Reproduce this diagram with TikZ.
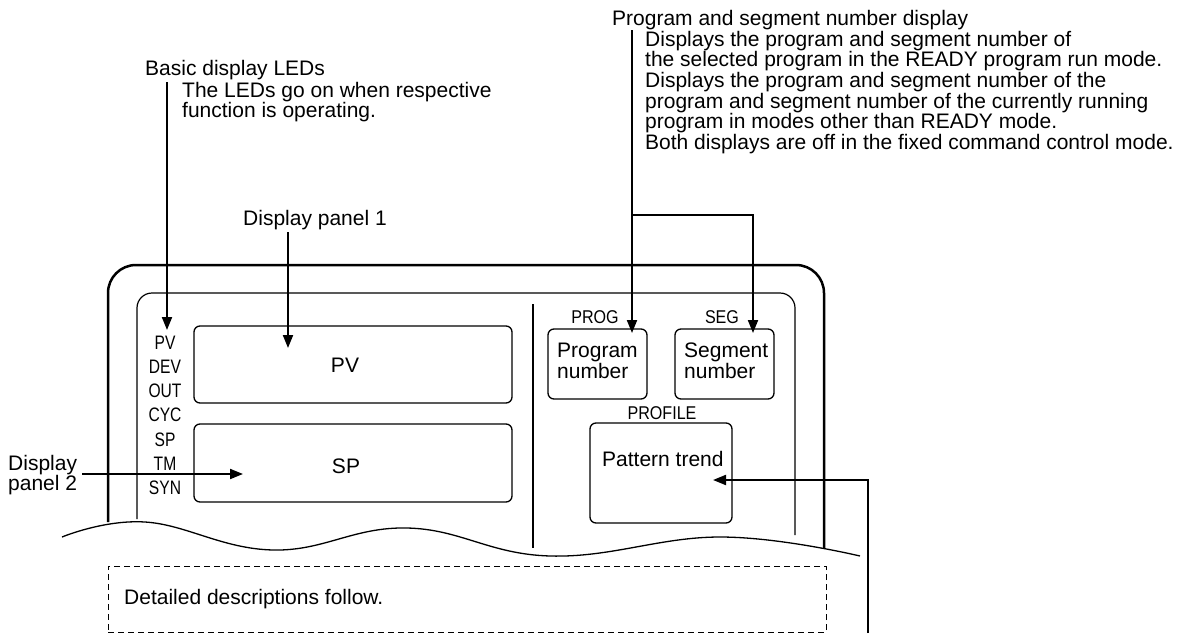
\documentclass[tikz,border=0pt]{standalone}
\usepackage{fontspec}
\setmainfont{Liberation Sans}
\newfontfamily\narrowfont[FakeStretch=0.8]{Liberation Sans}
\newfontfamily\semifont[FakeStretch=0.87]{Liberation Sans}
\usetikzlibrary{arrows.meta}
\begin{document}
\begin{tikzpicture}[x=1pt,y=-1pt,
  txt/.style={inner sep=0pt, font=\fontsize{21}{19}\selectfont},
  para/.style={inner sep=0pt, align=left, anchor=north west},
  led/.style={inner sep=0pt, font=\narrowfont\fontsize{19.5}{19.5}\selectfont},
  lab/.style={inner sep=0pt, font=\semifont\fontsize{18.5}{18.5}\selectfont},
  panel/.style={draw, line width=1.3pt, rounded corners=6pt},
  conn/.style={line width=2pt},
  arr/.style={conn, -{Triangle[length=13pt,width=10pt]}},
]
\useasboundingbox (0,0) rectangle (1197,637);

% device outline
\draw[line width=2.5pt, rounded corners=28pt] (108,522) -- (108,265) -- (824,265) -- (824,548);
\draw[line width=1.2pt, rounded corners=15pt] (137,519) -- (137,293) -- (795,293) -- (795,535);
\draw[line width=2pt] (533,304) -- (533,548);
\draw[line width=1.3pt] plot[smooth, tension=0.7] coordinates {(62,537) (145,522) (273,550) (407,528) (550,556) (720,537) (860,556)};

% display panels
\node[panel, minimum width=318pt, minimum height=77pt] (pvbox) at (353,364.5) {};
\node[panel, minimum width=318pt, minimum height=78pt] (spbox) at (353,463) {};
\node[txt] (pvtxt) at (345,365) {PV};
\node[txt] (sptxt) at (346,466) {SP};

% LEDs
\foreach \t/\yy [count=\i] in {PV/343, DEV/367, OUT/391, CYC/415, SP/440, TM/464, SYN/488}
  \node[led] (led\i) at (165,\yy) {\t};

% right side
\node[lab] (proglab) at (595,317) {PROG};
\node[lab] (seglab) at (722,317) {SEG};
\node[lab] (proflab) at (662,413) {PROFILE};
\node[panel, minimum width=99pt, minimum height=70pt] (progbox) at (597.5,364) {};
\node[panel, minimum width=99pt, minimum height=70pt] (segbox) at (724.5,364) {};
\node[panel, minimum width=142pt, minimum height=100pt] (profbox) at (661,473) {};
\node[para, font=\fontsize{21}{21}\selectfont] (progtxt) at (557,343) {Program\\number};
\node[para, font=\fontsize{21}{21}\selectfont] (segtxt) at (684,343) {Segment\\number};
\node[txt, anchor=base west] (proftxt) at (602,466) {Pattern trend};

% dashed box
\node[draw, dash pattern=on 6pt off 4pt, line width=1pt, minimum width=718pt, minimum height=66pt] (detail) at (467,599) {};
\node[txt, anchor=west] (detailtxt) at (124,599) {Detailed descriptions follow.};

% annotations
\node[txt, anchor=base west] (ledtitle) at (145,75) {Basic display LEDs};
\node[para, font=\fontsize{21}{20}\selectfont] (leddesc) at (182,82) {The LEDs go on when respective\\function is operating.};
\node[txt, anchor=base west] (dp1) at (243,225) {Display panel 1};
\node[para, font=\fontsize{21}{17}\selectfont] (dp2) at (8,455) {Display\\panel 2};
\node[txt, anchor=base west] (pstitle) at (612,25) {Program and segment number display};
\node[para, font=\fontsize{21}{17.5}\selectfont] (psdesc) at (645,31) {Displays the program and segment number of\\the selected program in the READY program run mode.\\Displays the program and segment number of the\\program and segment number of the currently running\\program in modes other than READY mode.\\Both displays are off in the fixed command control mode.};

% connector coordinates
\coordinate (ledtop) at (167,82);
\coordinate (ledtip) at (167,330);
\coordinate (dp1top) at (288,232);
\coordinate (dp1tip) at (288,348);
\coordinate (dp2start) at (82,474);
\coordinate (dp2tip) at (243,474);
\coordinate (pstop) at (632,30);
\coordinate (psbranch) at (632,215);
\coordinate (pscorner) at (753,215);
\coordinate (progtip) at (632,333);
\coordinate (segtip) at (753,333);
\coordinate (patbottom) at (868,633);
\coordinate (patcorner) at (868,480);
\coordinate (pattip) at (713,480);

\draw[arr] (ledtop) -- (ledtip);
\draw[arr] (dp1top) -- (dp1tip);
\draw[arr] (dp2start) -- (dp2tip);
\draw[arr] (pstop) -- (progtip);
\draw[arr] (psbranch) -- (pscorner) -- (segtip);
\draw[arr] (patbottom) -- (patcorner) -- (pattip);
\end{tikzpicture}
\end{document}
